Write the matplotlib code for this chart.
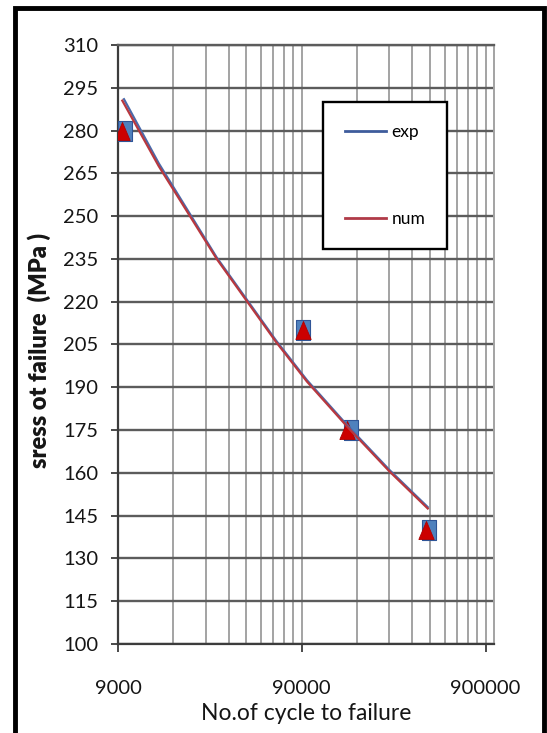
import matplotlib
matplotlib.use("Agg")
import matplotlib.pyplot as plt
from matplotlib.lines import Line2D
from matplotlib.patches import Rectangle
from matplotlib.ticker import FixedLocator, NullFormatter

plt.rcParams['font.family'] = ['Lato', 'DejaVu Sans']

# measured points (cycles to failure, stress MPa)
exp_N = [9800, 91000, 166000, 443000]
exp_S = [280, 210, 175, 140]
num_N = [9500, 91000, 158000, 428000]
num_S = [280, 210, 175, 140]

# trend curves
exp_fit_N = [9700, 15000, 31000, 65000, 96000, 160000, 270000, 436000]
exp_fit_S = [291, 268.5, 235.5, 206.5, 192.5, 176.5, 161, 148]
num_fit_N = [9500, 15000, 31000, 65000, 96000, 160000, 270000, 436000]
num_fit_S = [290.5, 267.5, 235, 206, 192, 176, 160.5, 147.5]

x_ticks = [9000, 90000, 900000]
x_ticklabels = ['9000', '90000', '900000']
y_ticks = list(range(100, 311, 15))

W, H = 547, 733
fig = plt.figure(figsize=(W / 100, H / 100), dpi=100)
ax = fig.add_axes([118 / W, 1 - 644 / H, (494 - 118) / W, (644 - 45) / H])

# markers taller than wide, like the stretched original
sq = [(-0.65, -1), (0.65, -1), (0.65, 1), (-0.65, 1), (-0.65, -1)]
tri = [(-0.85, -1), (0.85, -1), (0, 1), (-0.85, -1)]

ax.plot(exp_N, exp_S, linestyle='none', marker=sq, markersize=15,
        markerfacecolor='#4f81bd', markeredgecolor='#2f5597',
        markeredgewidth=0.8, zorder=3)
ax.plot(num_N, num_S, linestyle='none', marker=tri, markersize=13,
        markerfacecolor='#cc0000', markeredgecolor='#b00000',
        markeredgewidth=0.6, zorder=4)
ax.plot(exp_fit_N, exp_fit_S, color='#4a6aaa', lw=1.6, zorder=5)
ax.plot(num_fit_N, num_fit_S, color='#b8383f', lw=1.6, zorder=6)

ax.set_xscale('log')
ax.set_xlim(9000, 1.0e6)
ax.set_ylim(100, 310)

ax.xaxis.set_major_locator(FixedLocator(x_ticks))
ax.set_xticklabels(x_ticklabels)
minor = [k * d for d in (9000, 90000) for k in range(2, 10)]
ax.xaxis.set_minor_locator(FixedLocator(minor))
ax.xaxis.set_minor_formatter(NullFormatter())
ax.set_yticks(y_ticks)

ax.grid(axis='y', color='#5c5c5c', lw=1.7, zorder=0)
ax.grid(axis='x', which='both', color='#a3a3a3', lw=1.4, zorder=0)
ax.set_axisbelow(True)

for s in ('left', 'bottom'):
    ax.spines[s].set_color('#3c3c3c')
    ax.spines[s].set_linewidth(1.6)
ax.spines['top'].set_color('#5c5c5c')
ax.spines['top'].set_linewidth(1.7)
ax.spines['right'].set_color('#a3a3a3')
ax.spines['right'].set_linewidth(1.4)

ax.tick_params(axis='y', direction='out', length=5, width=1.3,
               color='#3c3c3c', pad=9, labelsize=14.5, labelcolor='#151515')
ax.tick_params(axis='x', which='major', direction='out', length=6,
               width=1.3, color='#3c3c3c', pad=20, labelsize=14.5,
               labelcolor='#151515')
ax.tick_params(axis='x', which='minor', length=0)

ax.set_xlabel('No.of cycle to failure', fontsize=16.5, color='#151515')
ax.xaxis.set_label_coords(0.5, -(713 - 644) / 599)
ax.xaxis.label.set_va('center')
ax.set_ylabel('sress ot failure  (MPa )', fontsize=17, fontweight='heavy',
              color='#151515')
ax.yaxis.set_label_coords(-(118 - 39) / 376, 1 - (351 - 45) / 599)
ax.yaxis.label.set_va('center')

handles = [Line2D([], [], color='#3e5c9c', lw=2),
           Line2D([], [], color='#b03a48', lw=2)]
leg = ax.legend(handles, ['exp', 'num'], loc='upper left',
                bbox_to_anchor=((323 - 118) / 376, 1 - (102 - 45) / 599),
                borderaxespad=0, fontsize=12.5, borderpad=1.25,
                labelspacing=4.1, handlelength=2.4, handletextpad=0.3,
                fancybox=False, framealpha=1, edgecolor='black')
leg.get_frame().set_linewidth(1.7)
leg.set_zorder(10)

fig.patches.append(Rectangle((15 / W, -0.05), (543.5 - 15) / W,
                             1 - 7.5 / H + 0.05, transform=fig.transFigure,
                             fill=False, edgecolor='black', lw=3.5))

fig.savefig('out.png', dpi=100)
